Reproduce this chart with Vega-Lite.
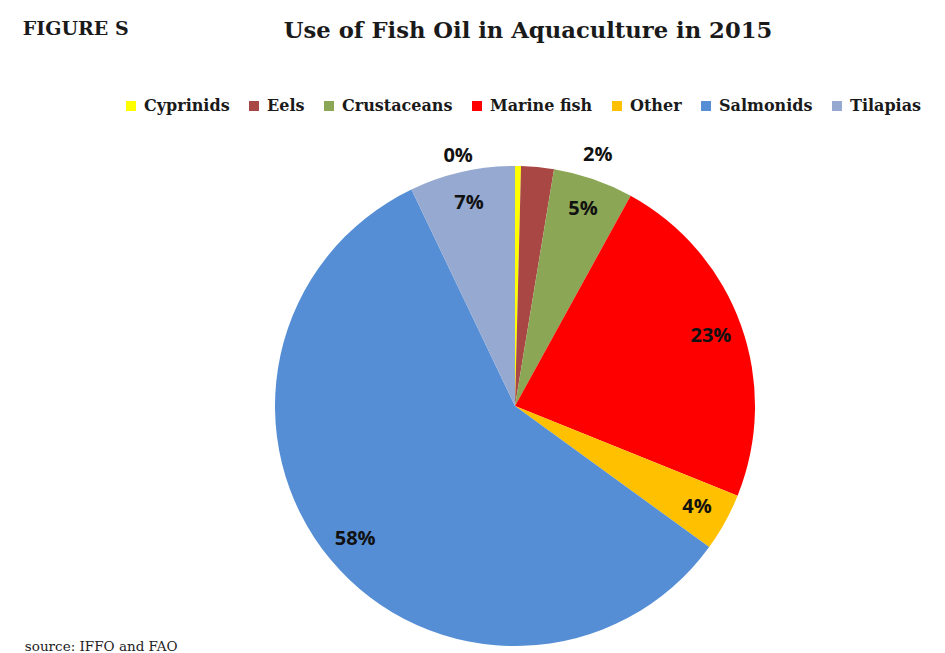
{
  "$schema": "https://vega.github.io/schema/vega-lite/v6.json",
  "background": "white",
  "padding": {"left": 22, "top": 20, "right": 25, "bottom": 0},
  "config": {"view": {"stroke": null}, "concat": {"spacing": 0}},
  "title": {"text": "FIGURE S", "anchor": "start", "frame": "bounds", "dx": -2, "dy": 19, "font": "DejaVu Serif", "fontSize": 19, "fontWeight": "bold", "color": "#1a1a1a", "offset": 0},
  "vconcat": [
    {
      "title": {"text": "source: IFFO and FAO", "orient": "bottom", "anchor": "start", "frame": "bounds", "dx": -238, "font": "DejaVu Serif", "fontSize": 13.5, "fontWeight": "normal", "color": "#222222", "offset": -6},
      "vconcat": [
        {
          "width": 480,
          "height": 480,
          "title": {"text": "Use of Fish Oil in Aquaculture in 2015", "anchor": "middle", "frame": "group", "dx": 13, "offset": 101, "font": "DejaVu Serif", "fontSize": 22.7, "fontWeight": "bold", "color": "#1a1a1a"},
          "data": {"values": [
            {"category": "Cyprinids", "rank": 1, "share": 0.004},
            {"category": "Eels", "rank": 2, "share": 0.022},
            {"category": "Crustaceans", "rank": 3, "share": 0.054},
            {"category": "Marine fish", "rank": 4, "share": 0.231},
            {"category": "Other", "rank": 5, "share": 0.039},
            {"category": "Salmonids", "rank": 6, "share": 0.579},
            {"category": "Tilapias", "rank": 7, "share": 0.071}
          ]},
          "encoding": {
            "theta": {"field": "share", "type": "quantitative", "stack": true},
            "order": {"field": "rank", "type": "quantitative", "sort": "ascending"}
          },
          "layer": [
            {
              "mark": {"type": "arc", "outerRadius": 240},
              "encoding": {
                "color": {
                  "field": "category", "type": "nominal",
                  "scale": {
                    "domain": ["Cyprinids", "Eels", "Crustaceans", "Marine fish", "Other", "Salmonids", "Tilapias"],
                    "range": ["#FFFF00", "#A94744", "#8BA655", "#FF0000", "#FFC000", "#558ED5", "#95A9D1"]
                  },
                  "legend": {
                    "title": null, "orient": "none", "legendX": -152, "legendY": -68,
                    "direction": "horizontal", "columns": 7, "symbolType": "square", "symbolSize": 100,
                    "symbolStrokeWidth": 0, "labelFont": "DejaVu Serif", "labelFontSize": 16, "labelFontWeight": "bold",
                    "labelColor": "#1a1a1a", "columnPadding": 16, "labelOffset": 5, "labelLimit": 300
                  }
                }
              }
            },
            {
              "mark": {"type": "text", "radius": 208, "font": "Open Sans", "fontSize": 20, "fontWeight": "bold", "color": "#111111"},
              "encoding": {
                "text": {"condition": {"test": "datum.share >= 0.03", "field": "share", "format": ".0%"}, "value": ""}
              }
            },
            {
              "mark": {"type": "text", "radius": 250, "dx": -60, "font": "Open Sans", "fontSize": 20, "fontWeight": "bold", "color": "#111111"},
              "encoding": {
                "text": {"condition": {"test": "datum.category === 'Cyprinids'", "field": "share", "format": ".0%"}, "value": ""}
              }
            },
            {
              "mark": {"type": "text", "radius": 252, "dx": 59, "font": "Open Sans", "fontSize": 20, "fontWeight": "bold", "color": "#111111"},
              "encoding": {
                "text": {"condition": {"test": "datum.category === 'Eels'", "field": "share", "format": ".0%"}, "value": ""}
              }
            }
          ]
        }
      ]
    }
  ]
}
